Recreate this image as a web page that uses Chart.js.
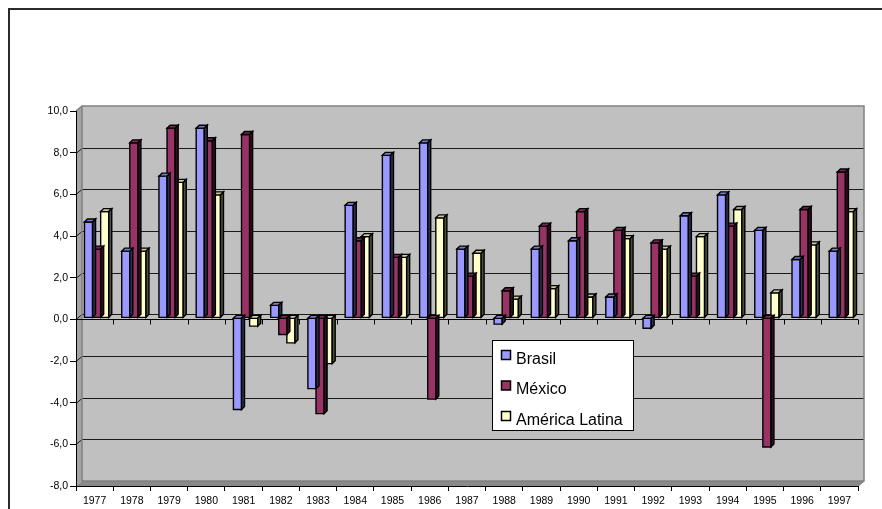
<!DOCTYPE html>
<html>
<head>
<meta charset="utf-8">
<script src="https://cdn.jsdelivr.net/npm/chart.js@4.4.1/dist/chart.umd.min.js"></script>
<style>
  html, body { margin: 0; padding: 0; background: #ffffff; }
  canvas { display: block; }
</style>
</head>
<body>
<canvas id="chart" width="882" height="509"></canvas>
<script>
// Annual growth rates (%), 1977–1997
const years = ['1977','1978','1979','1980','1981','1982','1983','1984','1985','1986','1987',
               '1988','1989','1990','1991','1992','1993','1994','1995','1996','1997'];
const brasil        = [4.6, 3.2, 6.8, 9.1, -4.4, 0.6, -3.4, 5.4, 7.8, 8.4, 3.3, -0.3, 3.3, 3.7, 1.0, -0.5, 4.9, 5.9, 4.2, 2.8, 3.2];
const mexico        = [3.3, 8.4, 9.1, 8.5, 8.8, -0.8, -4.6, 3.7, 2.9, -3.9, 2.0, 1.3, 4.4, 5.1, 4.2, 3.6, 2.0, 4.4, -6.2, 5.2, 7.0];
const americaLatina = [5.1, 3.2, 6.5, 5.9, -0.4, -1.2, -2.2, 3.9, 2.9, 4.8, 3.1, 0.9, 1.4, 1.0, 3.8, 3.3, 3.9, 5.2, 1.2, 3.5, 5.1];
const seriesNames   = ['Brasil', 'México', 'América Latina'];
const seriesColors  = ['#9999ff', '#993366', '#ffffcc'];
const yMin = -8, yMax = 10, yStep = 2;

const FONT = "'Liberation Sans', Arial, sans-serif";
const WALL = { dx: 6, dy: -5 };        // depth of the back wall
const BAR_DEPTH = { dx: 3, dy: -3 };   // extrusion of each column
const BAR_SHIFT = { x: 2, y: -1.5 };   // columns sit midway in depth

function shade(hex, f) {
  const n = parseInt(hex.slice(1), 16);
  const r = Math.round(((n >> 16) & 255) * f);
  const g = Math.round(((n >> 8) & 255) * f);
  const b = Math.round((n & 255) * f);
  return `rgb(${r},${g},${b})`;
}

function poly(ctx, pts, fill, stroke) {
  ctx.beginPath();
  ctx.moveTo(pts[0][0], pts[0][1]);
  for (let i = 1; i < pts.length; i++) ctx.lineTo(pts[i][0], pts[i][1]);
  ctx.closePath();
  if (fill) { ctx.fillStyle = fill; ctx.fill(); }
  if (stroke) { ctx.strokeStyle = stroke; ctx.stroke(); }
}

// Outer frame, walls, floor and gridlines of the 3-D plot box
const wallsPlugin = {
  id: 'walls',
  beforeDraw(chart) {
    const { ctx, chartArea: a, scales } = chart;
    const L = a.left, R = a.right, T = a.top, B = a.bottom;
    const dx = WALL.dx, dy = WALL.dy;
    ctx.save();

    // frame around the chart object
    ctx.strokeStyle = '#2b2b2b';
    ctx.lineWidth = 2;
    ctx.beginPath();
    ctx.moveTo(9, 509);
    ctx.lineTo(9, 9);
    ctx.lineTo(882, 9);
    ctx.stroke();

    ctx.lineWidth = 1;
    // side wall
    poly(ctx, [[L, T], [L + dx, T + dy], [L + dx, B + dy], [L, B]], '#a4a4a4');
    // floor
    poly(ctx, [[L, B], [L + dx, B + dy], [R + dx, B + dy], [R, B]], '#8a8a8a');
    // back wall
    ctx.fillStyle = '#c0c0c0';
    ctx.fillRect(L + dx, T + dy, R - L, B - T);

    // gridlines
    const y = scales.y;
    ctx.strokeStyle = '#1a1a1a';
    ctx.lineWidth = 1;
    for (let v = yMin + yStep; v < yMax; v += yStep) {
      const py = Math.round(y.getPixelForValue(v)) + 0.5;
      ctx.beginPath();
      ctx.moveTo(L, py);
      ctx.lineTo(L + dx, py + dy);
      ctx.lineTo(R + dx, py + dy);
      ctx.stroke();
    }

    // wall edges
    ctx.strokeStyle = '#808080';
    ctx.lineWidth = 1.5;
    ctx.beginPath();
    ctx.moveTo(L, T);
    ctx.lineTo(L + dx, T + dy);
    ctx.lineTo(R + dx, T + dy);
    ctx.lineTo(R + dx, B + dy);
    ctx.lineTo(R, B);
    ctx.stroke();
    ctx.beginPath();
    ctx.moveTo(L + dx, T + dy);
    ctx.lineTo(L + dx, B + dy);
    ctx.lineTo(R + dx, B + dy);
    ctx.stroke();

    ctx.restore();
  },
  beforeDatasetsDraw(chart) {
    // category axis crossing at zero, with its tick marks
    const { ctx, chartArea: a, scales } = chart;
    const y0 = Math.round(scales.y.getPixelForValue(0)) + 0.5;
    const x = scales.x;
    ctx.save();
    ctx.strokeStyle = '#000';
    ctx.lineWidth = 1;
    ctx.beginPath();
    ctx.moveTo(a.left, y0);
    ctx.lineTo(a.right, y0);
    const step = (a.right - a.left) / years.length;
    for (let i = 0; i <= years.length; i++) {
      const px = Math.round(x.getPixelForValue(0) - step / 2 + i * step) + 0.5;
      ctx.moveTo(px, y0);
      ctx.lineTo(px, y0 + 5);
    }
    ctx.stroke();
    ctx.restore();
  }
};

// Columns drawn with a front face, top face and side face
const bars3dPlugin = {
  id: 'bars3d',
  beforeDatasetDraw(chart, args) {
    const { ctx } = chart;
    const meta = args.meta;
    const color = chart.data.datasets[args.index].backgroundColor;
    const ex = BAR_DEPTH.dx, ey = BAR_DEPTH.dy;
    ctx.save();
    ctx.translate(BAR_SHIFT.x, BAR_SHIFT.y);
    ctx.lineWidth = 1.4;
    ctx.lineJoin = 'miter';
    meta.data.forEach((el) => {
      const p = el.getProps(['x', 'y', 'base', 'width'], true);
      const l = p.x - p.width / 2, r = p.x + p.width / 2;
      const top = Math.min(p.y, p.base), bot = Math.max(p.y, p.base);
      poly(ctx, [[l, top], [r, top], [r, bot], [l, bot]], color, '#000');
      poly(ctx, [[l, top], [l + ex, top + ey], [r + ex, top + ey], [r, top]], shade(color, 0.8), '#000');
      poly(ctx, [[r, top], [r + ex, top + ey], [r + ex, bot + ey], [r, bot]], shade(color, 0.3), '#000');
    });
    ctx.restore();
    return false;
  }
};

// Legend box inside the plot
const legendPlugin = {
  id: 'legendBox',
  afterDatasetsDraw(chart) {
    const { ctx } = chart;
    const bx = 492.5, by = 340.5, bw = 141, bh = 90;
    ctx.save();
    ctx.fillStyle = '#ffffff';
    ctx.fillRect(bx, by, bw, bh);
    ctx.strokeStyle = '#000';
    ctx.lineWidth = 1;
    ctx.strokeRect(bx, by, bw, bh);
    ctx.font = `16px ${FONT}`;
    ctx.textBaseline = 'alphabetic';
    ctx.textAlign = 'left';
    chart.data.datasets.forEach((ds, i) => {
      const base = 363.5 + i * 30.5;
      ctx.fillStyle = ds.backgroundColor;
      ctx.fillRect(501.5, base - 13, 9, 9);
      ctx.lineWidth = 1.5;
      ctx.strokeRect(501.5, base - 13, 9, 9);
      ctx.fillStyle = '#000';
      ctx.fillText(ds.label, 516, base);
    });
    ctx.restore();
  }
};

new Chart(document.getElementById('chart'), {
  type: 'bar',
  data: {
    labels: years,
    datasets: [
      { label: seriesNames[0], data: brasil,        backgroundColor: seriesColors[0] },
      { label: seriesNames[1], data: mexico,        backgroundColor: seriesColors[1] },
      { label: seriesNames[2], data: americaLatina, backgroundColor: seriesColors[2] }
    ]
  },
  options: {
    responsive: false,
    animation: false,
    devicePixelRatio: 1,
    layout: { padding: { top: 111, right: 24, left: 0, bottom: 0 } },
    datasets: { bar: { categoryPercentage: 0.652, barPercentage: 1.0, borderWidth: 0 } },
    plugins: { legend: { display: false }, tooltip: { enabled: false } },
    scales: {
      x: {
        grid: { display: true, drawOnChartArea: false, drawTicks: true, tickLength: 5, color: '#000', offset: true },
        border: { display: true, color: '#000', width: 1 },
        ticks: { color: '#000', font: { family: FONT, size: 10.5 }, padding: 4, maxRotation: 0, autoSkip: false },
        afterFit(s) { s.height = 23; }
      },
      y: {
        min: yMin,
        max: yMax,
        ticks: {
          stepSize: yStep,
          color: '#000',
          font: { family: FONT, size: 10.5 },
          padding: 2,
          callback: (v) => Number(v).toFixed(1).replace('.', ',')
        },
        grid: { display: true, drawOnChartArea: false, drawTicks: true, tickLength: 6, color: '#000' },
        border: { display: true, color: '#000', width: 1 },
        afterFit(s) { s.width = 76; }
      }
    }
  },
  plugins: [wallsPlugin, bars3dPlugin, legendPlugin]
});
</script>
</body>
</html>
